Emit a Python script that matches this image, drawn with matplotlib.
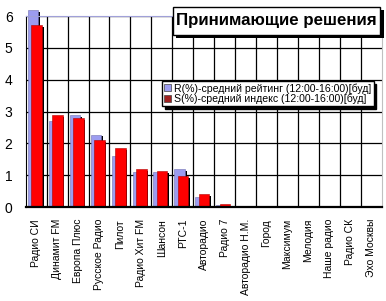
import numpy as np
import matplotlib.pyplot as plt
from matplotlib.patches import Rectangle, Patch

plt.rcParams['font.family'] = ['Liberation Sans', 'DejaVu Sans']

# ── Data ──────────────────────────────────────────────────────────────────────

stations = ["Радио СИ", "Динамит FM", "Европа Плюс", "Русское Радио", "Пилот",
            "Радио Хит FM", "Шансон", "РТС-1", "Авторадио", "Радио 7",
            "Авторадио Н.М.", "Город", "Максимум", "Мелодия", "Наше радио",
            "Радио СК", "Эхо Москвы"]
rating = [6.19, 2.69, 2.88, 2.28, 1.59, 1.10, 1.10, 1.19, 0.32, 0.07,
          0, 0, 0, 0, 0, 0, 0]
index_ = [5.72, 2.88, 2.80, 2.11, 1.86, 1.19, 1.13, 0.97, 0.40, 0.10,
          0, 0, 0, 0, 0, 0, 0]
y_ticks = [0, 1, 2, 3, 4, 5, 6]

title = "Принимающие решения"
label_r = "R(%)-средний рейтинг (12:00-16:00)[буд]"
label_s = "S(%)-средний индекс (12:00-16:00)[буд]"

LAVENDER = "#9c9cf0"
RED      = "#ff0000"
DARKRED  = "#a02020"

# ── Plot ──────────────────────────────────────────────────────────────────────

fig = plt.figure(figsize=(3.86, 3.01), dpi=100)
fig.patch.set_facecolor("white")
ax = fig.add_axes([0.0666, 0.312, 0.9224, 0.6346])

x = np.arange(len(stations))
w = 0.5
sh_dx, sh_dy = 0.08, 0.06

def draw_series(pos, vals, color, edge):
    vals = np.asarray(vals, dtype=float)
    sh = np.where(vals > 0, np.maximum(vals - sh_dy, 0), 0)
    ax.bar(pos + sh_dx, sh, w, color="black", linewidth=0, clip_on=False, zorder=2)
    ax.bar(pos, vals, w, color=color, edgecolor=edge, linewidth=0.4,
           clip_on=False, zorder=2)

draw_series(x - 0.15, rating, LAVENDER, "#7070b0")
draw_series(x + 0.02, index_, RED, "#b00000")

ax.set_xlim(-0.5, len(stations) - 0.5)
ax.set_ylim(0, 6)
ax.set_yticks(y_ticks)
ax.set_yticklabels([str(t) for t in y_ticks], fontsize=10)
ax.set_xticks(x)
ax.set_xticklabels(stations, rotation=90, fontsize=7.5, va="top", ha="center")
ax.set_xticks(np.arange(0.5, len(stations) - 0.5), minor=True)
ax.tick_params(axis="y", length=0, pad=9.5)
ax.tick_params(axis="x", which="both", length=0, pad=8.5)

ax.set_axisbelow(True)
ax.grid(axis="y", which="major", color="black", lw=0.9)
ax.grid(axis="x", which="minor", color="black", lw=0.9)
ax.grid(axis="x", which="major", visible=False)

ax.spines["left"].set_color("black")
ax.spines["bottom"].set_color("black")
ax.spines["bottom"].set_linewidth(1.6)
ax.spines["top"].set_color("#a0a0d8")
ax.spines["right"].set_color("#c0c0c0")

# title box with shadow
def px_rect(x0, y0, x1, y1, **kw):
    W, H = 386, 301
    return Rectangle((x0 / W, 1 - y1 / H), (x1 - x0) / W, (y1 - y0) / H,
                     transform=fig.transFigure, **kw)

fig.patches.append(px_rect(176, 10, 384, 38, facecolor="black", zorder=5))
fig.patches.append(px_rect(173, 7, 380, 35, facecolor="white",
                           edgecolor="black", lw=1, zorder=6))
fig.text(276.5 / 386, 1 - 21 / 301, title, fontsize=12.2, fontweight="bold",
         ha="center", va="center", zorder=7)

# legend
handles = [Patch(facecolor=LAVENDER, edgecolor="#404040", lw=0.5, label=label_r),
           Patch(facecolor=DARKRED, edgecolor="#404040", lw=0.5, label=label_s)]
leg = ax.legend(handles=handles, loc="upper left",
                bbox_to_anchor=(162 / 386, 1 - 81 / 301),
                bbox_transform=fig.transFigure, fontsize=7.6,
                frameon=True, fancybox=False, shadow={"color": "black", "alpha": 1},
                borderpad=0.2, handlelength=0.65, handleheight=0.65,
                handletextpad=0.3, labelspacing=0.0, borderaxespad=0)
leg.get_frame().set_edgecolor("black")
leg.get_frame().set_linewidth(1)
leg.set_zorder(8)

plt.savefig("out.png", dpi=100)
